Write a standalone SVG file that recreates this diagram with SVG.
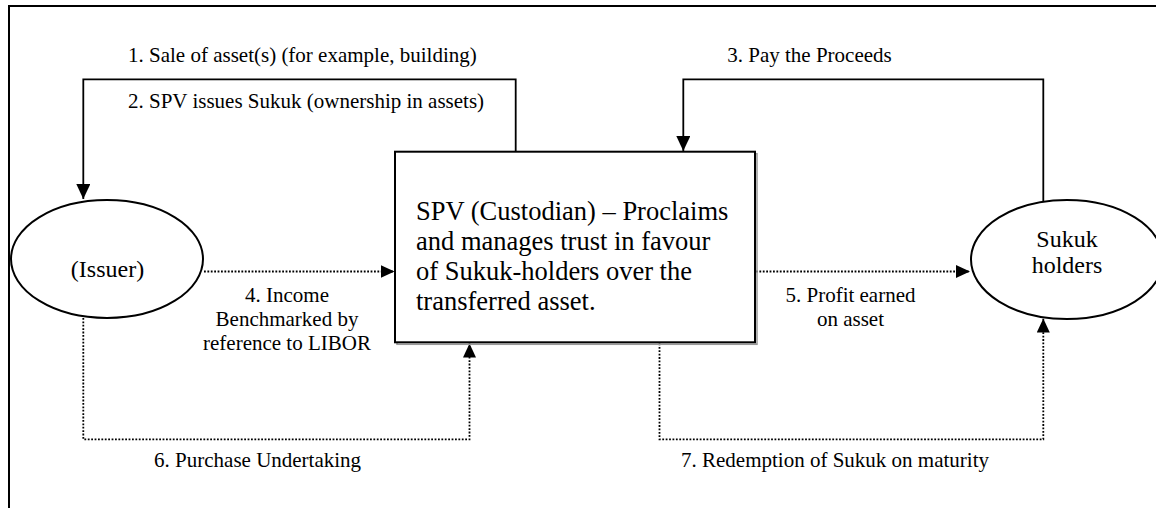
<svg xmlns="http://www.w3.org/2000/svg" width="1156" height="508" viewBox="0 0 1156 508">
<defs>
<style>
.lbl{font-family:"Liberation Serif","Times New Roman",serif;font-size:21px;fill:#000}
.node-t{font-family:"Liberation Serif","Times New Roman",serif;font-size:24px;fill:#000}
.box-t{font-family:"Liberation Serif","Times New Roman",serif;font-size:26.5px;fill:#000}
.solid{fill:none;stroke:#000;stroke-width:1.8}
.dot{fill:none;stroke:#000;stroke-width:1.8;stroke-dasharray:1.8 1.6}
.shape{fill:#fff;stroke:#000;stroke-width:2}
</style>
<marker id="ah" markerUnits="userSpaceOnUse" markerWidth="15" markerHeight="14" refX="15" refY="7" orient="auto">
<path d="M0,0 L15,7 L0,14 z" fill="#000"/>
</marker>
<marker id="ahd" markerUnits="userSpaceOnUse" markerWidth="14" markerHeight="13" refX="14" refY="6.5" orient="auto">
<path d="M0,0 L14,6.5 L0,13 z" fill="#000"/>
</marker>
</defs>
<rect width="1156" height="508" fill="#fff"/>
<path d="M9,508 V6 H1156" fill="none" stroke="#000" stroke-width="2"/>

<g id="connectors">
<path class="solid" d="M515.7,151.7 V79.3 H83.3 V199" marker-end="url(#ah)"/>
<path class="solid" d="M1043.3,202 V79.3 H683.3 V151" marker-end="url(#ah)"/>
<path class="dot" d="M204,271.5 H394.5" marker-end="url(#ahd)"/>
<path class="dot" d="M756,271.5 H970" marker-end="url(#ahd)"/>
<path class="dot" d="M83.3,318 V439.3 H469.5 V343.5" marker-end="url(#ahd)"/>
<path class="dot" d="M659.5,343.5 V439.3 H1043.3 V318.5" marker-end="url(#ahd)"/>
<text class="lbl" x="128" y="62">1. Sale of asset(s) (for example, building)</text>
<text class="lbl" x="128" y="108">2. SPV issues Sukuk (ownership in assets)</text>
<text class="lbl" x="809.5" y="62" text-anchor="middle">3. Pay the Proceeds</text>
<text class="lbl" text-anchor="middle"><tspan x="287" y="301.5">4. Income</tspan><tspan x="287" y="325.5">Benchmarked by</tspan><tspan x="287" y="349.5">reference to LIBOR</tspan></text>
<text class="lbl" text-anchor="middle"><tspan x="850.5" y="301.5">5. Profit earned</tspan><tspan x="850.5" y="325.5">on asset</tspan></text>
<text class="lbl" x="257.6" y="467" text-anchor="middle">6. Purchase Undertaking</text>
<text class="lbl" x="835" y="467" text-anchor="middle">7. Redemption of Sukuk on maturity</text>
</g>

<g id="issuer">
<ellipse class="shape" cx="107" cy="259" rx="96" ry="59"/>
<text class="node-t" x="107.5" y="277" text-anchor="middle">(Issuer)</text>
</g>

<g id="spv">
<rect x="397" y="153.7" width="360" height="190.6" fill="none" stroke="#999" stroke-width="1.5"/>
<rect class="shape" x="395" y="151.7" width="360" height="190.6"/>
<text class="box-t"><tspan x="416" y="220">SPV (Custodian) – Proclaims</tspan><tspan x="416" y="250">and manages trust in favour</tspan><tspan x="416" y="280">of Sukuk-holders over the</tspan><tspan x="416" y="310">transferred asset.</tspan></text>
</g>

<g id="sukuk-holders">
<ellipse class="shape" cx="1067" cy="259.5" rx="96" ry="59.5"/>
<text class="node-t" text-anchor="middle"><tspan x="1067" y="246.7">Sukuk</tspan><tspan x="1067" y="273.3">holders</tspan></text>
</g>
</svg>
